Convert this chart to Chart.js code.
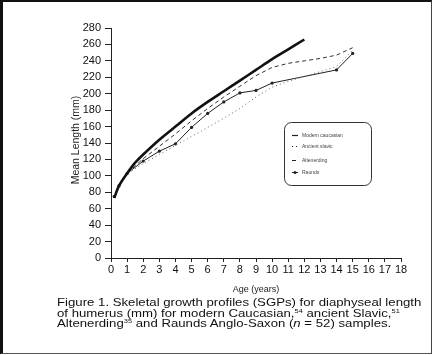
<!DOCTYPE html>
<html>
<head>
<meta charset="utf-8">
<script src="https://cdn.jsdelivr.net/npm/chart.js@4.4.1/dist/chart.umd.min.js"></script>
<style>
  html, body { margin: 0; padding: 0; background: #fff; }
  #frame {
    position: absolute; left: 0; top: 0; width: 428px; height: 351px;
    border-left: 3px solid #111; border-top: 2px solid #111;
    border-right: 1px solid #444; border-bottom: 1px solid #555;
    background: #fff; overflow: hidden;
  }
  #wrap { position: absolute; left: -3px; top: -2px; width: 435px; height: 300px; }
  #caption {
    position: absolute; left: 54px; top: 295px; width: 380px;
    font-family: "Liberation Sans", Arial, sans-serif; font-size: 13.2px;
    line-height: 13px; color: #111; white-space: nowrap;
    transform: scale(1, 0.82); transform-origin: 0 0;
  }
  #caption sup { font-size: 7.5px; vertical-align: 5px; line-height: 0; }
</style>
</head>
<body>
<div id="frame">
  <div id="wrap"><canvas id="growthChart" width="435" height="300"></canvas></div>
  <div id="caption">
    Figure 1. Skeletal growth profiles (SGPs) for diaphyseal length<br>
    of humerus (mm) for modern Caucasian,<sup>54</sup> ancient Slavic,<sup>51</sup><br>
    Altenerding<sup>35</sup> and Raunds Anglo-Saxon (<i>n</i> = 52) samples.
  </div>
</div>
<script>
document.addEventListener("DOMContentLoaded", () => {

    const seriesNames = ["Modern caucasian", "Ancient slavic", "Altenerding", "Raunds"];

    const modernAges = [0.2, 0.5, 1, 1.5, 2, 3, 4, 5, 6, 7, 8, 9, 10, 11, 12];
    const modernLength = [73, 88, 103, 116, 126, 144, 160, 176, 190, 203, 216, 229, 242, 254, 266];

    const slavicAges = [0.2, 0.5, 1, 2, 3, 4, 5, 6, 7, 8, 9, 10, 11, 12, 13, 14, 15];
    const slavicLength = [74, 88, 102, 115, 126, 137, 148, 159, 170, 182, 196, 208, 215, 221, 227, 233, 253];

    const altenAges = [0.2, 0.5, 1, 2, 3, 4, 5, 6, 7, 8, 9, 10, 11, 12, 13, 14, 15];
    const altenLength = [74, 88, 103, 121, 136, 151, 167, 182, 196, 209, 222, 232, 237, 240, 243, 247, 256];

    const raundsAges = [0.2, 0.5, 1, 2, 3, 4, 5, 6, 7, 8, 9, 10, 14, 15];
    const raundsLength = [75, 88, 103, 118, 130, 139, 159, 176, 190, 201, 204, 213, 229, 249];

    const xTicks = [0, 18, 1];    // min, max, step
    const yTicks = [0, 280, 20];

    const font = "'Liberation Sans', Arial, sans-serif";

    function toPoints(ages, values) {
        return ages.map((a, i) => ({ x: a, y: values[i] }));
    }

    // axis titles and the rounded legend box
    const extras = {
        id: "extras",
        afterDraw(chart) {
            const ctx = chart.ctx;
            ctx.save();
            ctx.fillStyle = "#222";
            ctx.textAlign = "center";
            ctx.textBaseline = "middle";
            ctx.font = "9px " + font;
            ctx.fillText("Age (years)", 256, 290);

            ctx.translate(76, 140);
            ctx.rotate(-Math.PI / 2);
            ctx.font = "10.5px " + font;
            ctx.fillText("Mean Length (mm)", 0, 0);
            ctx.restore();

            // legend
            ctx.save();
            const bx = 284, by = 122, bw = 87, bh = 63, r = 7;
            ctx.strokeStyle = "#333";
            ctx.lineWidth = 1;
            ctx.beginPath();
            ctx.roundRect(bx + 0.5, by + 0.5, bw, bh, r);
            ctx.stroke();

            const rows = [135, 146, 160, 172];
            chart.data.datasets.forEach((ds, i) => {
                const y = rows[i] + 0.5;
                ctx.strokeStyle = "#222";
                ctx.lineWidth = i === 0 ? 1.2 : 1;
                ctx.setLineDash(ds.borderDash || []);
                ctx.beginPath();
                ctx.moveTo(292, y);
                ctx.lineTo(298, y);
                ctx.stroke();
                ctx.setLineDash([]);
                if (i === 3) {
                    ctx.fillStyle = "#222";
                    ctx.beginPath();
                    ctx.arc(295, y, 1.5, 0, Math.PI * 2);
                    ctx.fill();
                }
                ctx.fillStyle = "#444";
                ctx.font = "5px " + font;
                ctx.textAlign = "left";
                ctx.textBaseline = "middle";
                ctx.fillText(ds.label, 302, y);
            });
            ctx.restore();
        }
    };

    const ctx = document.getElementById("growthChart").getContext("2d");

    new Chart(ctx, {
        type: "line",
        data: {
            datasets: [
                {
                    label: seriesNames[0],
                    data: toPoints(modernAges, modernLength),
                    borderColor: "#111",
                    borderWidth: 2.6,
                    pointRadius: 0,
                    tension: 0.3
                },
                {
                    label: seriesNames[1],
                    data: toPoints(slavicAges, slavicLength),
                    borderColor: "#666",
                    borderWidth: 1,
                    borderDash: [1, 3],
                    pointRadius: 0,
                    tension: 0
                },
                {
                    label: seriesNames[2],
                    data: toPoints(altenAges, altenLength),
                    borderColor: "#333",
                    borderWidth: 1,
                    borderDash: [4, 3],
                    pointRadius: 0,
                    tension: 0
                },
                {
                    label: seriesNames[3],
                    data: toPoints(raundsAges, raundsLength),
                    borderColor: "#222",
                    backgroundColor: "#222",
                    borderWidth: 1,
                    pointRadius: 1.6,
                    pointBorderWidth: 0,
                    tension: 0
                }
            ]
        },
        options: {
            responsive: false,
            animation: false,
            layout: { padding: { left: 0, right: 34, top: 28, bottom: 0 } },
            plugins: {
                legend: { display: false },
                tooltip: { enabled: false }
            },
            scales: {
                x: {
                    type: "linear",
                    min: xTicks[0],
                    max: xTicks[1],
                    afterFit: (scale) => { scale.height = 42; },
                    ticks: {
                        stepSize: xTicks[2],
                        color: "#111",
                        padding: 1,
                        maxRotation: 0,
                        autoSkip: false,
                        font: { family: font, size: 11 }
                    },
                    grid: { drawOnChartArea: false, drawTicks: true, tickLength: 4, color: "#222" },
                    border: { display: true, color: "#222", width: 1 }
                },
                y: {
                    min: yTicks[0],
                    max: yTicks[1],
                    afterFit: (scale) => { scale.width = 111; },
                    ticks: {
                        stepSize: yTicks[2],
                        color: "#111",
                        padding: 4,
                        font: { family: font, size: 11 }
                    },
                    grid: { drawOnChartArea: false, drawTicks: true, tickLength: 6, color: "#222" },
                    border: { display: true, color: "#222", width: 1 }
                }
            }
        },
        plugins: [extras]
    });

});
</script>
</body>
</html>
